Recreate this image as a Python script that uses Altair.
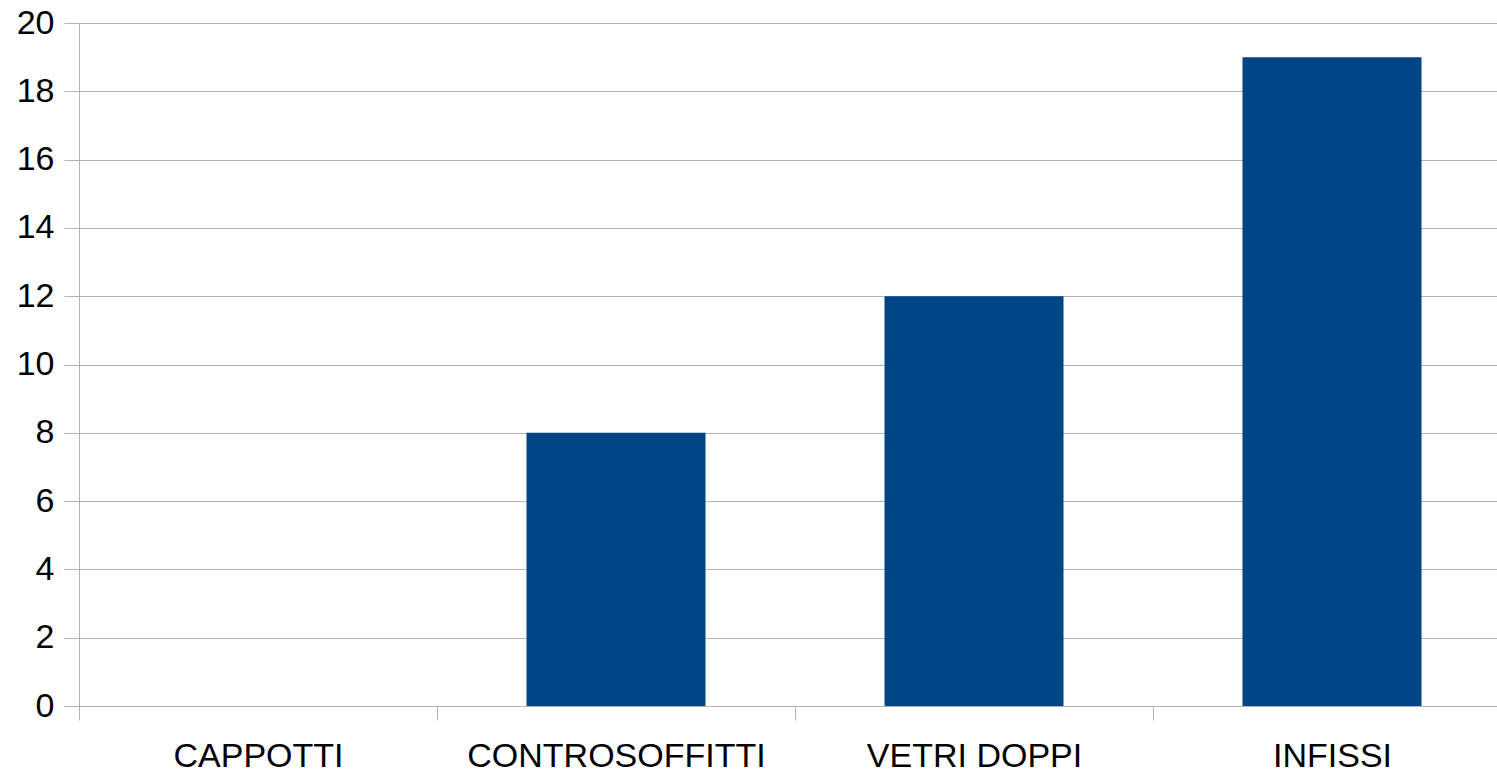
import altair as alt
import pandas as pd

# Interventions and counts
categories = ["CAPPOTTI", "CONTROSOFFITTI", "VETRI DOPPI", "INFISSI"]
counts = [0, 8, 12, 19]
y_ticks = list(range(0, 21, 2))

df = pd.DataFrame({"categoria": categories, "valore": counts})

FONT = "Liberation Sans"
GRID = "#b3b3b3"

chart = (
    alt.Chart(df)
    .mark_bar(color="#004586", width=alt.RelativeBandSize(0.5))
    .encode(
        x=alt.X(
            "categoria:N",
            sort=categories,
            scale=alt.Scale(range=[0, 1432], paddingInner=0, paddingOuter=0),
            axis=alt.Axis(
                title=None,
                labelAngle=0,
                labelFont=FONT,
                labelFontSize=34,
                labelColor="#000000",
                labelPadding=19,
                labelLimit=0,
                tickBand="extent",
                tickSize=14,
                tickColor=GRID,
                domainColor=GRID,
                grid=False,
            ),
        ),
        y=alt.Y(
            "valore:Q",
            scale=alt.Scale(domain=[0, 20], nice=False),
            axis=alt.Axis(
                title=None,
                values=y_ticks,
                labelFont=FONT,
                labelFontSize=34,
                labelColor="#000000",
                labelPadding=10,
                tickSize=15,
                tickColor=GRID,
                domainColor=GRID,
                gridColor=GRID,
                grid=True,
            ),
        ),
    )
    .properties(
        width=1418,
        height=683,
        autosize=alt.AutoSizeParams(type="none"),
        padding={"left": 79, "top": 23, "right": 0, "bottom": 68},
    )
    .configure_view(stroke=None)
    .configure(background="#ffffff")
)

chart.save("out.html", embed_options={"renderer": "svg", "actions": False})
